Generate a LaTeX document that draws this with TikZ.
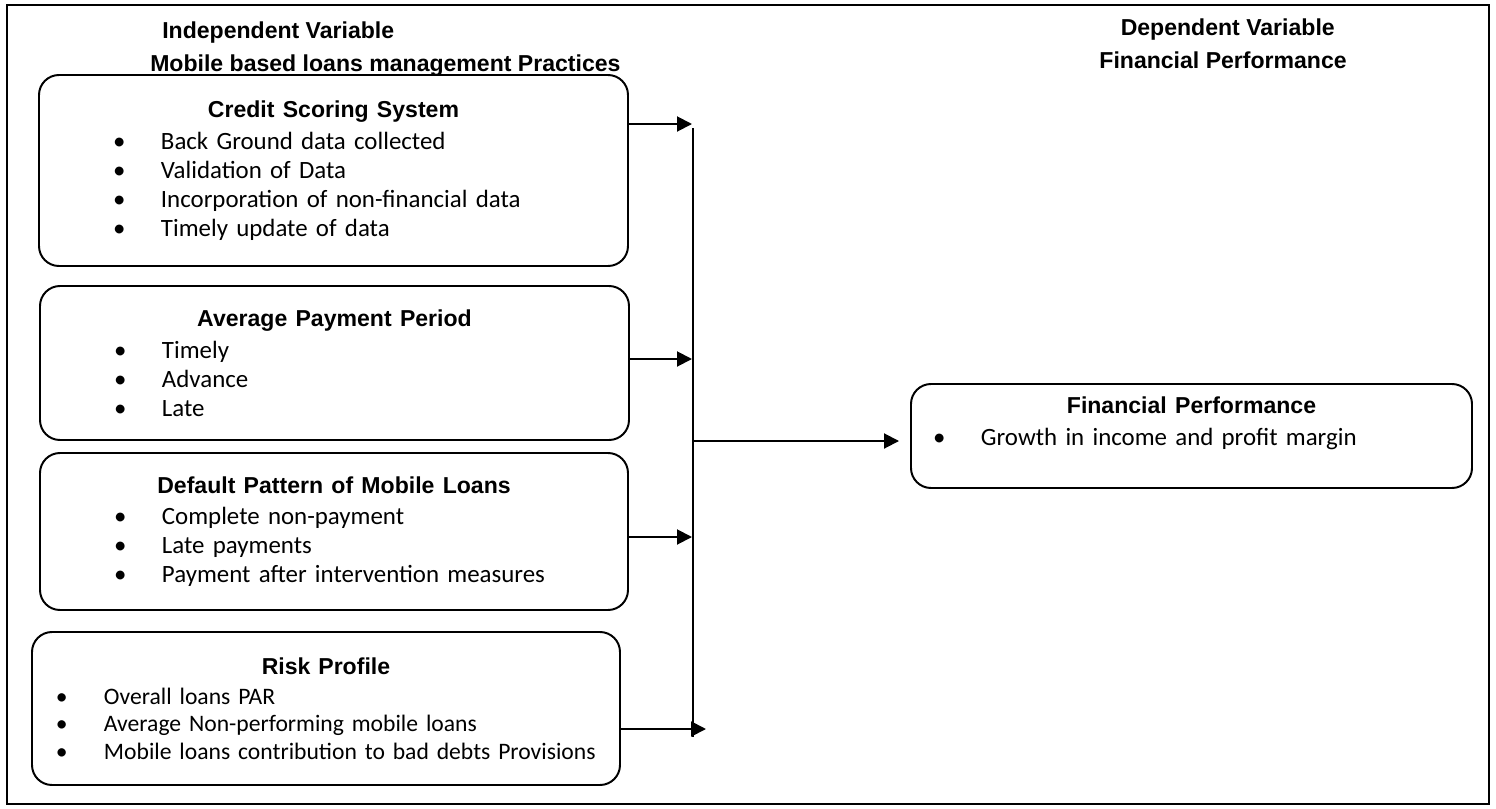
\documentclass[tikz,border=0pt]{standalone}
\usepackage{fontspec}
\setmainfont{Liberation Sans}
\newfontfamily\listfont{Carlito}
\usetikzlibrary{arrows.meta}

\newlength{\listindent}
\newcommand{\boxhead}[1]{{\centering\rmfamily\bfseries\fontsize{16.4}{20}\selectfont #1\par}\vspace{2pt}}
\newcommand{\entry}[1]{\par\hspace*{\listindent}\makebox[1.2cm][l]{\textbullet}#1}

\begin{document}
\begin{tikzpicture}[%
  panel/.style={draw, line width=1.4pt, rounded corners=0.5cm, inner sep=0pt,
    font=\listfont\fontsize{17.7}{20.6}\selectfont,
    execute at begin node={\setlength{\listindent}{#1}}},
  panel/.default=1.85cm,
  heading/.style={inner sep=0pt, font=\bfseries\fontsize{16.4}{20}\selectfont},
  link/.style={line width=1.4pt, -{Triangle[length=0.375cm, width=0.375cm]}}]

  \useasboundingbox (0,0) rectangle (37.4,-20.2);
  \draw[line width=0.8pt] (0.175,-0.125) rectangle (37.225,-20.1);

  % headings
  \node[heading, anchor=west] (indep) at (4.05,-0.825) {Independent Variable};
  \node[heading, anchor=west] (practices) at (3.75,-1.65) {Mobile based loans management Practices};
  \node[heading, anchor=east] (dep) at (33.375,-0.75) {Dependent Variable};
  \node[heading, anchor=east] (perfhead) at (33.675,-1.5) {Financial Performance};

  % independent variables
  \node[panel, text width=14.725cm, minimum height=4.775cm] (scoring) at (8.3375,-4.2625)
    {\boxhead{Credit Scoring System}\entry{Back Ground data collected}\entry{Validation of Data}%
     \entry{Incorporation of non-financial data}\entry{Timely update of data}\par\vspace{4pt}};
  \node[panel, text width=14.725cm, minimum height=3.85cm] (period) at (8.3625,-9.075)
    {\boxhead{Average Payment Period}\entry{Timely}\entry{Advance}\entry{Late}};
  \node[panel, text width=14.7cm, minimum height=3.925cm] (default) at (8.35,-13.2875)
    {\boxhead{Default Pattern of Mobile Loans}\entry{Complete non-payment}\entry{Late payments}%
     \entry{Payment after intervention measures}};
  \node[panel=0.6cm, text width=14.7cm, minimum height=3.825cm,
    font=\listfont\fontsize{16.8}{19.6}\selectfont] (risk) at (8.15,-17.7125)
    {\boxhead{Risk Profile}\entry{Overall loans PAR}\entry{Average Non-performing mobile loans}%
     \entry{Mobile loans contribution to bad debts Provisions}};

  % dependent variable
  \node[panel=0.55cm, text width=14.025cm, minimum height=2.6cm] (perf) at (29.7875,-10.9)
    {\boxhead{Financial Performance}\entry{Growth in income and profit margin}\par\mbox{}};

  % connectors
  \coordinate (top) at (17.325,-3.2);
  \coordinate (bottom) at (17.325,-18.425);
  \coordinate (hub) at (17.325,-11.025);
  \coordinate (j1) at (17.3,-3.1);
  \coordinate (j2) at (17.3,-8.975);
  \coordinate (j3) at (17.3,-13.425);
  \coordinate (j4) at (17.65,-18.225);
  \draw[line width=1.4pt] (top) -- (bottom);
  \draw[link] (scoring.east |- j1) -- (j1);
  \draw[link] (period.east |- j2) -- (j2);
  \draw[link] (default.east |- j3) -- (j3);
  \draw[link] (risk.east |- j4) -- (j4);
  \draw[link, shorten >=0.275cm] (hub) -- (hub -| perf.west);
\end{tikzpicture}
\end{document}
